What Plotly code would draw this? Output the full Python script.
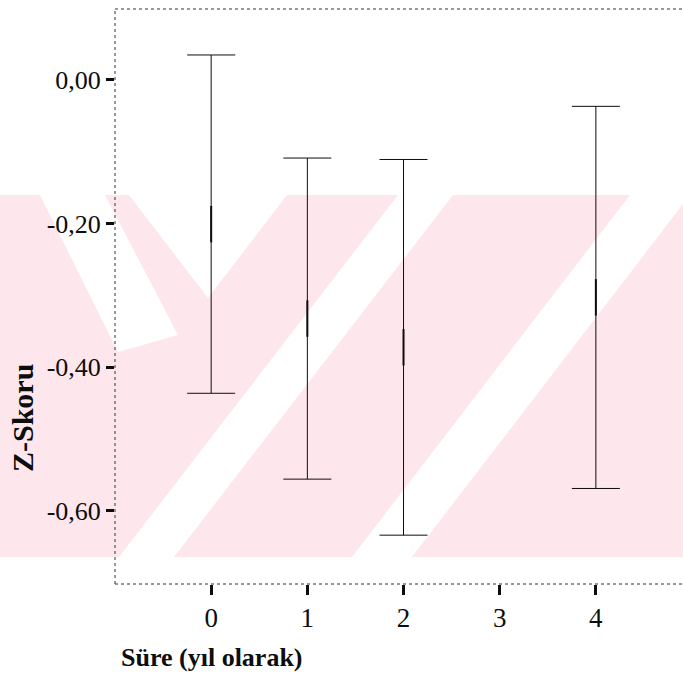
import plotly.graph_objects as go

# Mean Z-score and 95% CI half-width per duration (years)
years = [0, 1, 2, 4]
mean_z = [-0.201, -0.3325, -0.3725, -0.303]
ci_half = [0.2355, 0.2235, 0.2615, 0.266]

x_ticks = [0, 1, 2, 3, 4]
y_ticks = [0.0, -0.2, -0.4, -0.6]
y_tick_text = ["0,00", "-0,20", "-0,40", "-0,60"]

W, H = 683, 673
L, R, T, B = 115, 0, 9, 89
PW, PH = W - L - R, H - T - B

FONT = "Liberation Serif, Times New Roman, serif"
INK = "#0d0d0d"
PINK = "rgb(253,231,236)"


def px(x):
    return (x - L) / PW


def py(y):
    return (H - B - y) / PH


def poly(points):
    d = "M " + " L ".join(f"{px(a):.5f},{py(b):.5f}" for a, b in points) + " Z"
    return dict(type="path", path=d, xref="paper", yref="paper",
                fillcolor="white", line=dict(width=0), layer="below")


def slanted(x_top_left, x_top_right, x_bot_left, x_bot_right, y0=195, y1=557):
    return poly([(x_top_left, y0), (x_top_right, y0), (x_bot_right, y1), (x_bot_left, y1)])


fig = go.Figure()

fig.add_trace(go.Scatter(
    x=years, y=mean_z, mode="markers",
    marker=dict(symbol="line-ns-open", size=26, color=INK, line=dict(width=2, color=INK)),
    error_y=dict(type="data", array=ci_half, symmetric=True,
                 color=INK, thickness=1, width=24),
    showlegend=False, hoverinfo="skip",
))

shapes = []
# watermark band
shapes.append(dict(type="rect", xref="paper", yref="paper",
                   x0=px(0), x1=px(W), y0=py(557), y1=py(195),
                   fillcolor=PINK, line=dict(width=0), layer="below"))
# white cut-outs of the watermark
shapes.append(poly([(40, 195), (105, 195), (178, 335), (118, 352)]))
shapes.append(poly([(129, 195), (287, 195), (208, 298)]))
shapes.append(slanted(398, 453, 119, 174))
shapes.append(slanted(630, 690, 352, 412))

# dotted frame (left, top, bottom)
frame = dict(color="#333", width=1, dash="dot")
shapes.append(dict(type="line", xref="paper", yref="paper", x0=0, x1=0, y0=0, y1=1, line=frame, layer="above"))
shapes.append(dict(type="line", xref="paper", yref="paper", x0=0, x1=1, y0=1, y1=1, line=frame, layer="above"))
shapes.append(dict(type="line", xref="paper", yref="paper", x0=0, x1=1, y0=0, y1=0, line=frame, layer="above"))

fig.update_layout(
    width=W, height=H,
    margin=dict(l=L, r=R, t=T, b=B),
    paper_bgcolor="white", plot_bgcolor="rgba(0,0,0,0)",
    font=dict(family=FONT, color=INK),
    shapes=shapes,
    xaxis=dict(range=[-1, 4.906], tickvals=x_ticks, ticks="outside",
               ticklen=10, tickwidth=3, tickcolor=INK,
               tickfont=dict(size=27, family=FONT, color=INK),
               showgrid=False, zeroline=False, showline=False),
    yaxis=dict(range=[-0.702, 0.0985], tickvals=y_ticks, ticktext=y_tick_text,
               ticks="outside", ticklen=8, tickwidth=3, tickcolor=INK,
               tickfont=dict(size=26, family=FONT, color=INK),
               showgrid=False, zeroline=False, showline=False),
    annotations=[
        dict(text="<b>Z-Skoru</b>", xref="paper", yref="paper",
             x=px(22), y=py(418), xanchor="center", yanchor="middle",
             textangle=-90, showarrow=False,
             font=dict(size=30, family=FONT, color=INK)),
        dict(text="<b>Süre (yıl olarak)</b>", xref="paper", yref="paper",
             x=px(119), y=py(657), xanchor="left", yanchor="middle",
             showarrow=False, font=dict(size=26, family=FONT, color=INK)),
    ],
)

fig.write_html("out.html")
